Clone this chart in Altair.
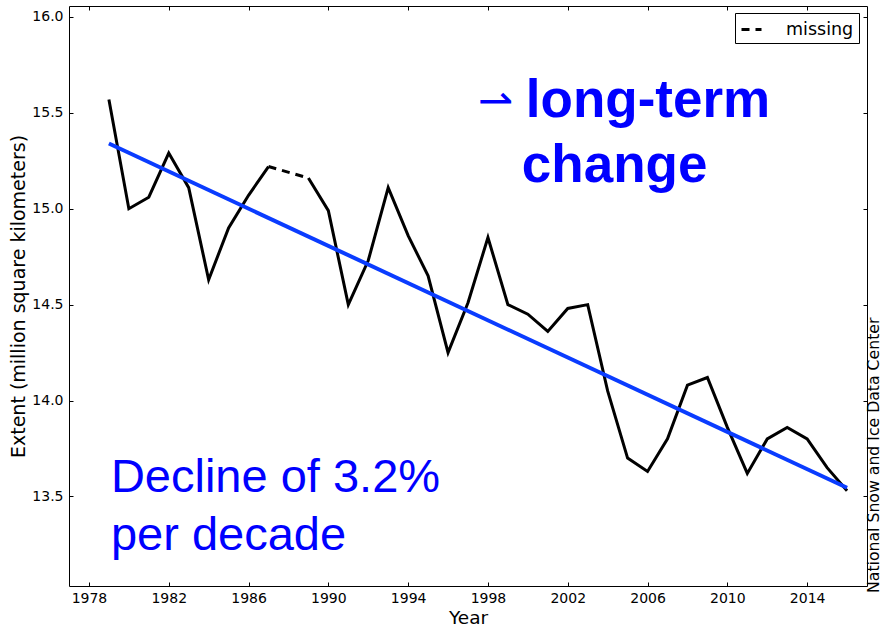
import altair as alt
import pandas as pd

# ---- data ----
years = [1979, 1980, 1981, 1982, 1983, 1984, 1985, 1986, 1987, 1988,
         1989, 1990, 1991, 1992, 1993, 1994, 1995, 1996, 1997, 1998,
         1999, 2000, 2001, 2002, 2003, 2004, 2005, 2006, 2007, 2008,
         2009, 2010, 2011, 2012, 2013, 2014, 2015, 2016]
extent = [15.57, 15.00, 15.06, 15.29, 15.11, 14.63, 14.90, 15.07, 15.22, None,
          15.16, 14.99, 14.50, 14.73, 15.11, 14.86, 14.65, 14.25, 14.51, 14.85,
          14.50, 14.45, 14.36, 14.48, 14.50, 14.05, 13.70, 13.63, 13.80, 14.08,
          14.12, 13.86, 13.62, 13.80, 13.86, 13.80, 13.65, 13.53]
gap_years = [1987, 1989]
gap_values = [15.22, 15.16]
trend_years = [1979, 2016]
trend_values = [15.34, 13.545]
x_ticks = [1978, 1982, 1986, 1990, 1994, 1998, 2002, 2006, 2010, 2014]
y_ticks = [13.5, 14.0, 14.5, 15.0, 15.5, 16.0]

decline_text = ["Decline of 3.2%", "per decade"]
decline_x = [1979.1, 1979.1]
decline_y = [13.522, 13.222]
change_text = ["long-term", "change"]
change_x = [1999.9, 1999.7]
change_y = [15.478, 15.141]
arrow_text = ["\u21c0"]
arrow_x = [1997.5]
arrow_y = [15.49]
credit_text = ["National Snow and Ice Data Center"]
credit_x = [2017.6]
credit_y = [12.997]

# ---- tables ----
obs = pd.DataFrame({"year": years, "extent": extent})
obs = obs.dropna()
obs["seg"] = ["a" if y < 1988 else "b" for y in obs["year"]]
gap = pd.DataFrame({"year": gap_years, "extent": gap_values, "kind": ["missing"] * 2})
trend = pd.DataFrame({"year": trend_years, "extent": trend_values})
decl = pd.DataFrame({"t": decline_text, "x": decline_x, "y": decline_y})
chg = pd.DataFrame({"t": change_text, "x": change_x, "y": change_y})
arr = pd.DataFrame({"t": arrow_text, "x": arrow_x, "y": arrow_y})
cred = pd.DataFrame({"t": credit_text, "x": credit_x, "y": credit_y})

xs = alt.Scale(domain=[1977, 2017], nice=False, zero=False)
ys = alt.Scale(domain=[13.033, 16.057], nice=False, zero=False)

ax_common = dict(grid=False, domain=False, offset=-4, tickSize=4, tickColor="black",
                 tickWidth=1, labelFont="DejaVu Sans", labelFontSize=14,
                 labelColor="black", titleFont="DejaVu Sans", titleFontWeight="normal",
                 titleColor="black")

line = alt.Chart(obs).mark_line(color="black", strokeWidth=3).encode(
    x=alt.X("year:Q", scale=xs, axis=alt.Axis(values=x_ticks, format="d", title="Year",
                                               orient="bottom", labelPadding=5,
                                               titleFontSize=18.5, titlePadding=3, **ax_common)),
    y=alt.Y("extent:Q", scale=ys, axis=alt.Axis(values=y_ticks, format=".1f",
                                                 title="Extent (million square kilometers)",
                                                 orient="left", labelPadding=6,
                                                 titleFontSize=19, titlePadding=3, **ax_common)),
    detail="seg:N",
)

trend_line = alt.Chart(trend).mark_line(color="#0a3cff", strokeWidth=4).encode(
    x=alt.X("year:Q", scale=xs, axis=alt.Axis(values=x_ticks, orient="top", labels=False,
                                               title=None, **ax_common)),
    y=alt.Y("extent:Q", scale=ys, axis=alt.Axis(values=y_ticks, orient="right", labels=False,
                                                 title=None, **ax_common)),
)

gap_line = alt.Chart(gap).mark_line(color="black", strokeWidth=3).encode(
    x=alt.X("year:Q", scale=xs, axis=None),
    y=alt.Y("extent:Q", scale=ys, axis=None),
    strokeDash=alt.StrokeDash("kind:N", scale=alt.Scale(domain=["missing"], range=[[8, 6]]),
                              legend=alt.Legend(title=None, orient="none", legendX=666, legendY=7)),
)

def txt(df, **kw):
    return alt.Chart(df).mark_text(align="left", baseline="alphabetic", **kw).encode(
        x=alt.X("x:Q", scale=xs, axis=None),
        y=alt.Y("y:Q", scale=ys, axis=None),
        text="t:N",
    )

decl_l = txt(decl, font="Liberation Sans", fontSize=47, color="#0000ff")
chg_l = txt(chg, font="Liberation Sans", fontSize=53, fontWeight="bold", color="#0000ff")
arr_l = txt(arr, font="DejaVu Sans", fontSize=42, color="#0000ff")
cred_l = txt(cred, font="DejaVu Sans", fontSize=15.7, color="black", angle=270)

chart = alt.layer(line, trend_line, gap_line, decl_l, chg_l, arr_l, cred_l).resolve_axis(
    x="independent", y="independent"
).properties(
    width=798, height=580,
    padding={"left": 69, "top": 6, "right": 18, "bottom": 43},
    autosize=alt.AutoSizeParams(type="none"),
).configure_view(
    stroke="black", strokeWidth=1
).configure_legend(
    strokeColor="black", fillColor="white", padding=5, cornerRadius=0,
    labelFont="DejaVu Sans", labelFontSize=17.5, labelColor="black",
    symbolStrokeColor="black", symbolStrokeWidth=3, symbolSize=400, labelOffset=23,
    symbolType="stroke",
)

chart.save("out.html", embed_options={"renderer": "svg", "actions": False})
